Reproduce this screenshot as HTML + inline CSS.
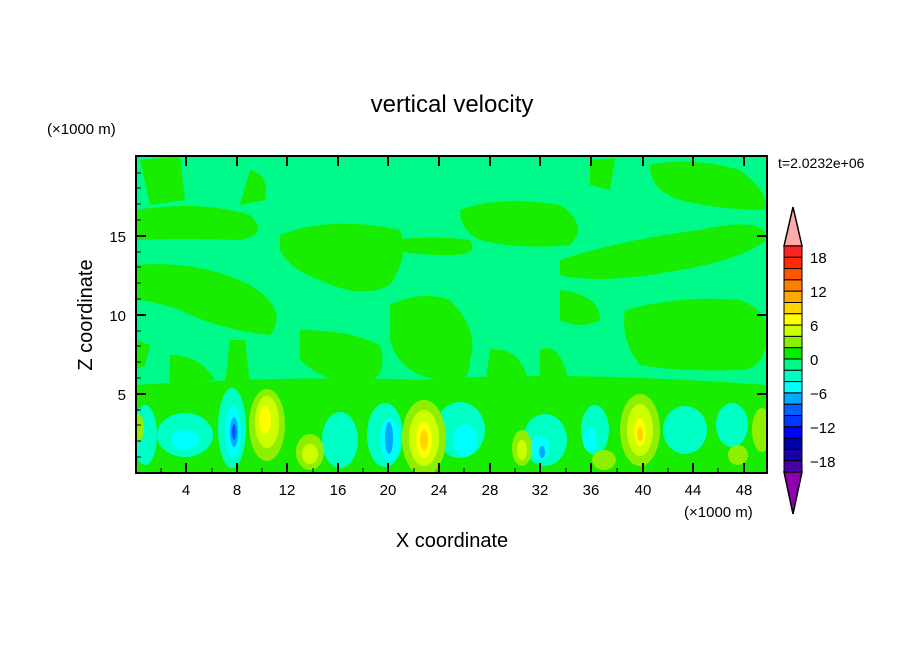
<!DOCTYPE html>
<html><head><meta charset="utf-8"><style>
html,body{margin:0;padding:0;background:#fff;}
svg{display:block;font-family:"Liberation Sans","DejaVu Sans",sans-serif;}
</style></head><body>
<svg width="904" height="654" viewBox="0 0 904 654" xmlns="http://www.w3.org/2000/svg">
<rect width="904" height="654" fill="#fff"/>
<text x="452" y="112" font-size="24" text-anchor="middle" fill="#000">vertical velocity</text>
<text x="47" y="134" font-size="15" fill="#000">(×1000 m)</text>
<text x="778" y="168" font-size="14" fill="#000">t=2.0232e+06</text>
<defs><clipPath id="c"><rect x="136" y="156" width="631" height="317"/></clipPath></defs>
<g clip-path="url(#c)">
<rect x="136" y="156" width="631" height="317" fill="#00fa8a"/>
<g fill="#18ec00">
<path d="M136 210 Q200 200 250 215 Q270 235 240 240 Q180 238 136 240Z"/>
<path d="M140 160 L180 156 L185 200 L150 205Z"/>
<path d="M250 170 Q270 175 265 200 L240 205Z"/>
<path d="M136 265 Q200 260 250 285 Q290 310 270 335 Q220 330 180 310 Q150 300 136 300Z"/>
<path d="M280 235 Q330 215 400 230 Q410 255 390 285 Q360 300 320 280 Q290 270 280 250Z"/>
<path d="M460 210 Q500 195 560 205 Q590 225 570 245 Q520 250 480 240 Q460 230 460 210Z"/>
<path d="M395 240 Q430 235 470 240 Q480 255 450 255 Q410 255 395 250Z"/>
<path d="M650 165 Q690 156 740 170 Q767 190 767 210 Q720 210 680 200 Q650 190 650 165Z"/>
<path d="M560 260 Q620 240 700 230 Q767 215 767 240 Q740 260 680 270 Q600 285 560 275Z"/>
<path d="M590 160 L615 158 L610 190 L590 185Z"/>
<path d="M390 305 Q420 290 450 300 Q480 330 470 360 Q470 390 440 380 Q400 375 390 340Z"/>
<path d="M300 330 Q350 330 380 345 Q390 380 360 385 Q320 380 300 360Z"/>
<path d="M560 290 Q600 295 600 320 Q580 330 560 320Z"/>
<path d="M625 310 Q680 295 740 300 Q767 310 767 330 Q767 370 740 370 Q680 372 640 365 Q620 340 625 310Z"/>
<path d="M136 340 L150 345 L145 365 L136 370Z"/>
<path d="M136 385 Q300 375 420 380 Q560 370 767 385 L767 473 L136 473Z"/>
<path d="M170 355 Q200 355 215 380 L170 385Z"/>
<path d="M490 350 Q520 345 530 385 L485 385Z"/>
<path d="M540 350 Q560 340 570 385 L540 385Z"/>
<path d="M230 340 L245 340 L250 385 L225 385Z"/>
</g>
<g fill="#00ffc4">
<ellipse cx="185" cy="435" rx="28" ry="22"/>
<ellipse cx="232" cy="428" rx="14" ry="40"/>
<ellipse cx="340" cy="440" rx="18" ry="28"/>
<ellipse cx="385" cy="435" rx="18" ry="32"/>
<ellipse cx="460" cy="430" rx="25" ry="28"/>
<ellipse cx="545" cy="440" rx="22" ry="26"/>
<ellipse cx="595" cy="430" rx="14" ry="25"/>
<ellipse cx="685" cy="430" rx="22" ry="24"/>
<ellipse cx="732" cy="425" rx="16" ry="22"/>
<ellipse cx="145" cy="435" rx="12" ry="30"/>
</g>
<g fill="#00ffff">
<ellipse cx="185" cy="440" rx="14" ry="10"/>
<ellipse cx="233" cy="432" rx="8" ry="26"/>
<ellipse cx="390" cy="440" rx="10" ry="22"/>
<ellipse cx="465" cy="440" rx="12" ry="16"/>
<ellipse cx="540" cy="448" rx="10" ry="12"/>
<ellipse cx="590" cy="440" rx="7" ry="12"/>
</g>
<g fill="#00a8ff"><ellipse cx="234" cy="432" rx="4" ry="15"/><ellipse cx="389" cy="438" rx="4" ry="16"/><ellipse cx="542" cy="452" rx="3" ry="6"/></g>
<g fill="#0055ff"><ellipse cx="234" cy="432" rx="2" ry="8"/></g>
<g fill="#8ef000">
<ellipse cx="267" cy="425" rx="18" ry="36"/>
<ellipse cx="310" cy="452" rx="14" ry="18"/>
<ellipse cx="424" cy="438" rx="22" ry="38"/>
<ellipse cx="522" cy="448" rx="10" ry="18"/>
<ellipse cx="604" cy="460" rx="12" ry="10"/>
<ellipse cx="640" cy="430" rx="20" ry="36"/>
<ellipse cx="738" cy="455" rx="10" ry="10"/>
<ellipse cx="762" cy="430" rx="10" ry="22"/>
<ellipse cx="138" cy="428" rx="6" ry="14"/>
</g>
<g fill="#ccff00">
<ellipse cx="267" cy="422" rx="12" ry="26"/>
<ellipse cx="310" cy="454" rx="8" ry="10"/>
<ellipse cx="424" cy="438" rx="15" ry="28"/>
<ellipse cx="522" cy="450" rx="5" ry="10"/>
<ellipse cx="640" cy="430" rx="13" ry="26"/>
</g>
<g fill="#ffff00"><ellipse cx="265" cy="420" rx="6" ry="14"/><ellipse cx="424" cy="440" rx="8" ry="18"/><ellipse cx="640" cy="432" rx="6" ry="14"/></g>
<g fill="#ffd500"><ellipse cx="424" cy="440" rx="4" ry="10"/><ellipse cx="640" cy="434" rx="3" ry="7"/></g>
</g>
<rect x="136" y="156" width="631" height="317" fill="none" stroke="#000" stroke-width="2"/>
<g stroke="#000" stroke-width="2">
<path d="M186 473v-10M237 473v-10M287 473v-10M338 473v-10M388 473v-10M439 473v-10M490 473v-10M540 473v-10M591 473v-10M643 473v-10M693 473v-10M744 473v-10"/>
<path d="M186 156v10M237 156v10M287 156v10M338 156v10M388 156v10M439 156v10M490 156v10M540 156v10M591 156v10M643 156v10M693 156v10M744 156v10"/>
<path d="M136 394h10M136 315h10M136 236h10M767 394h-10M767 315h-10M767 236h-10"/>
</g>
<g stroke="#000" stroke-width="1">
<path d="M161 473v-5M212 473v-5M262 473v-5M313 473v-5M363 473v-5M414 473v-5M464 473v-5M515 473v-5M566 473v-5M617 473v-5M668 473v-5M718 473v-5"/>
<path d="M136 457h5M136 441h5M136 425h5M136 410h5M136 378h5M136 362h5M136 346h5M136 331h5M136 299h5M136 283h5M136 267h5M136 252h5M136 220h5M136 204h5M136 188h5M136 173h5"/>
</g>
<g font-size="15" fill="#000" text-anchor="middle">
<text x="186" y="495">4</text><text x="237" y="495">8</text><text x="287" y="495">12</text><text x="338" y="495">16</text><text x="388" y="495">20</text><text x="439" y="495">24</text><text x="490" y="495">28</text><text x="540" y="495">32</text><text x="591" y="495">36</text><text x="643" y="495">40</text><text x="693" y="495">44</text><text x="744" y="495">48</text>
</g>
<g font-size="15" fill="#000" text-anchor="end">
<text x="126" y="400">5</text><text x="126" y="321">10</text><text x="126" y="242">15</text>
</g>
<text x="684" y="517" font-size="15" fill="#000">(×1000 m)</text>
<text x="452" y="547" font-size="20" text-anchor="middle" fill="#000">X coordinate</text>
<text x="92" y="315" font-size="20" text-anchor="middle" fill="#000" transform="rotate(-90 92 315)">Z coordinate</text>
<g stroke="#000" stroke-width="1.5">
<path d="M784 246 L793 207 L802 246Z" fill="#ffaaaa"/>
<path d="M784 472 L793 514 L802 472Z" fill="#9000b0"/>
</g>
<g stroke="#000" stroke-width="1">
<rect x="784" y="246" width="18" height="11.3" fill="#ff2222"/>
<rect x="784" y="257.3" width="18" height="11.3" fill="#ff2a00"/>
<rect x="784" y="268.6" width="18" height="11.3" fill="#ff5500"/>
<rect x="784" y="279.9" width="18" height="11.3" fill="#ff7f00"/>
<rect x="784" y="291.2" width="18" height="11.3" fill="#ffaa00"/>
<rect x="784" y="302.5" width="18" height="11.3" fill="#ffd500"/>
<rect x="784" y="313.8" width="18" height="11.3" fill="#ffff00"/>
<rect x="784" y="325.1" width="18" height="11.3" fill="#ccff00"/>
<rect x="784" y="336.4" width="18" height="11.3" fill="#88f000"/>
<rect x="784" y="347.7" width="18" height="11.3" fill="#00f000"/>
<rect x="784" y="359" width="18" height="11.3" fill="#00fa8a"/>
<rect x="784" y="370.3" width="18" height="11.3" fill="#00ffc4"/>
<rect x="784" y="381.6" width="18" height="11.3" fill="#00ffff"/>
<rect x="784" y="392.9" width="18" height="11.3" fill="#00aaff"/>
<rect x="784" y="404.2" width="18" height="11.3" fill="#0060ff"/>
<rect x="784" y="415.5" width="18" height="11.3" fill="#0038ff"/>
<rect x="784" y="426.8" width="18" height="11.3" fill="#0000ff"/>
<rect x="784" y="438.1" width="18" height="11.3" fill="#0000aa"/>
<rect x="784" y="449.4" width="18" height="11.3" fill="#1a00a8"/>
<rect x="784" y="460.7" width="18" height="11.3" fill="#4a00a8"/>
</g>
<g font-size="15" fill="#000">
<text x="810" y="263">18</text><text x="810" y="297">12</text><text x="810" y="331">6</text><text x="810" y="365">0</text><text x="810" y="399">−6</text><text x="810" y="433">−12</text><text x="810" y="467">−18</text>
</g>
</svg>
</body></html>
